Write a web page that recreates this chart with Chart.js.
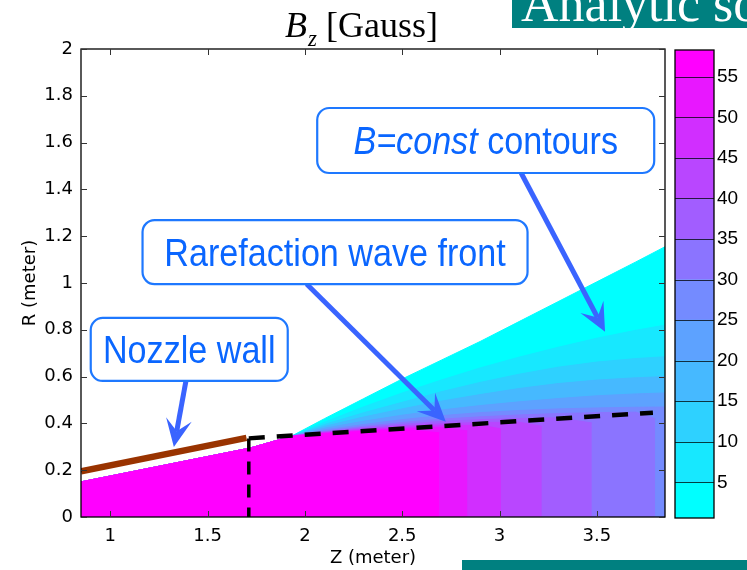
<!DOCTYPE html>
<html><head><meta charset="utf-8">
<script src="https://cdn.jsdelivr.net/npm/chart.js@4/dist/chart.umd.min.js"></script>
<style>
html,body{margin:0;padding:0;background:#fff;}
#wrap{position:relative;width:747px;height:570px;overflow:hidden;background:#fff;}
#main{position:absolute;left:0;top:0;}
#cbar{position:absolute;left:660px;top:0;}
#banner{position:absolute;left:512px;top:0;width:235px;height:28px;background:#008080;overflow:hidden;}
#banner span{position:absolute;left:9px;top:-24px;font-family:"Liberation Serif","Times New Roman",serif;font-size:52px;color:#fff;white-space:nowrap;line-height:56px;}
#footer{position:absolute;left:462px;top:560px;width:285px;height:10px;background:#008080;}
</style></head>
<body>
<div id="wrap">
<canvas id="main" width="747" height="570"></canvas>
<canvas id="cbar" width="87" height="570"></canvas>
<div id="banner"><span>Analytic solution</span></div>
<div id="footer"></div>
</div>
<script>
// ---------- axes ----------
const zRange = [0.85, 3.85];
const rRange = [0, 2];
const zTicks = [1, 1.5, 2, 2.5, 3, 3.5];
const zTickLabels = ['1', '1.5', '2', '2.5', '3', '3.5'];
const rTicks = [0, 0.2, 0.4, 0.6, 0.8, 1, 1.2, 1.4, 1.6, 1.8, 2];
const rTickLabels = ['0', '0.2', '0.4', '0.6', '0.8', '1', '1.2', '1.4', '1.6', '1.8', '2'];

// ---------- colour bar ----------
const bLevels = [0, 5, 10, 15, 20, 25, 30, 35, 40, 45, 50, 55];
const cbEdges = [0.6, 5, 10, 15, 20, 25, 30, 35, 40, 45, 50, 55, 58.3];
const cbTicks = [5, 10, 15, 20, 25, 30, 35, 40, 45, 50, 55];
const cbTickLabels = ['5', '10', '15', '20', '25', '30', '35', '40', '45', '50', '55'];

// ---------- field: nozzle interior top edge ----------
const nozzleZ = [0.85, 1.72];
const nozzleR = [0.15, 0.295];

// ---------- field: B >= level regions, upper boundary (R) sampled at fanZ ----------
const fanZ = [1.93, 2.1, 2.3, 2.5, 2.7, 2.9, 3.1, 3.3, 3.5, 3.7, 3.85];
const bound0  = [0.345, 0.42, 0.505, 0.59, 0.67, 0.75, 0.835, 0.92, 1.005, 1.09, 1.155];
const bound5  = [0.345, 0.405, 0.47, 0.53, 0.585, 0.637, 0.683, 0.725, 0.764, 0.798, 0.82];
const bound10 = [0.345, 0.395, 0.445, 0.49, 0.535, 0.575, 0.61, 0.64, 0.662, 0.677, 0.685];
const bound15 = [0.345, 0.387, 0.427, 0.462, 0.495, 0.523, 0.549, 0.57, 0.585, 0.595, 0.60];
const bound20 = [0.345, 0.379, 0.409, 0.435, 0.457, 0.476, 0.492, 0.506, 0.518, 0.526, 0.53];
const bound25 = [0.345, 0.372, 0.395, 0.416, 0.433, 0.446, 0.455, 0.462, 0.466, 0.469, 0.47];
const bound30 = [0.345, 0.367, 0.387, 0.404, 0.418, 0.428, 0.436, 0.442, 0.446, 0.448];
const bound35 = [0.345, 0.364, 0.382, 0.396, 0.408, 0.416, 0.421, 0.424];
const bound40 = [0.345, 0.362, 0.377, 0.389, 0.398, 0.404, 0.405];
const bound45 = [0.345, 0.36, 0.373, 0.383, 0.39, 0.392];
const bound50 = [0.345, 0.358, 0.37, 0.378, 0.382];
const bound55 = [0.345, 0.356, 0.366, 0.374];
// where the uniform (core) region drops below each level
const cutZ = [null, null, null, null, null, null, 3.80, 3.474, 3.217, 3.007, 2.835, 2.69];
const cutR = [null, null, null, null, null, null, 0.42, 0.402, 0.388, 0.377, 0.368, 0.360];

// ---------- overlay lines ----------
const wallZ = [0.85, 1.70];
const wallR = [0.195, 0.338];
const frontVZ = [1.712, 1.712];
const frontVR = [0.336, 0];
const frontHZ = [1.712, 3.788];
const frontHR = [0.336, 0.446];

// ---------- callouts (anchor positions in data units) ----------
const callouts = [
  {parts: [['Nozzle wall', 'normal']], z: 1.406, r: 0.716, w: 197, h: 63, tailZ: 1.389, tailR: 0.581, tipZ: 1.327, tipR: 0.299},
  {parts: [['Rarefaction wave front', 'normal']], z: 2.155, r: 1.132, w: 385, h: 64, tailZ: 2.009, tailR: 0.996, tipZ: 2.724, tipR: 0.407},
  {parts: [['B=const', 'italic'], [' contours', 'normal']], z: 2.929, r: 1.609, w: 337, h: 65, tailZ: 3.111, tailR: 1.470, tipZ: 3.542, tipR: 0.792}
];

const bounds = [bound0, bound5, bound10, bound15, bound20, bound25, bound30, bound35, bound40, bound45, bound50, bound55];

function coolColor(k) {
  const r = Math.round(k * 255 / 11);
  return 'rgb(' + r + ',' + (255 - r) + ',255)';
}
function pts(zs, rs) { return zs.map((z, i) => ({x: z, y: rs[i]})); }
function bandPoints(k) {
  const p = pts(nozzleZ, nozzleR);
  bounds[k].forEach((r, i) => p.push({x: fanZ[i], y: r}));
  if (cutZ[k] !== null) p.push({x: cutZ[k], y: cutR[k]});
  return p;
}

const datasets = [];
bLevels.forEach((lv, k) => {
  const c = coolColor(k);
  datasets.push({data: bandPoints(k), showLine: true, fill: 'origin', backgroundColor: c, borderColor: c,
    borderWidth: 1, pointRadius: 0, order: 100 - k, tension: 0});
});
datasets.push({data: pts(frontVZ, frontVR), showLine: true, fill: false, borderColor: '#000', borderWidth: 3.5,
  borderDash: [13, 10], borderCapStyle: 'butt', pointRadius: 0, order: 3});
datasets.push({data: pts(frontHZ, frontHR), showLine: true, fill: false, borderColor: '#000', borderWidth: 4.5,
  borderDash: [16, 12], borderCapStyle: 'butt', pointRadius: 0, order: 2});
datasets.push({data: pts(wallZ, wallR), showLine: true, fill: false, borderColor: '#993300', borderWidth: 6.5,
  borderCapStyle: 'butt', pointRadius: 0, order: 1});

const tickFont = {family: '"DejaVu Sans", sans-serif', size: 18};

function drawArrow(ctx, x0, y0, x1, y1) {
  const dx = x1 - x0, dy = y1 - y0, L = Math.hypot(dx, dy);
  const ux = dx / L, uy = dy / L, px = -uy, py = ux;
  ctx.strokeStyle = '#3a64ff'; ctx.fillStyle = '#3a64ff';
  ctx.lineWidth = 5; ctx.lineCap = 'butt';
  ctx.beginPath(); ctx.moveTo(x0, y0); ctx.lineTo(x1 - ux * 16, y1 - uy * 16); ctx.stroke();
  ctx.beginPath();
  ctx.moveTo(x1, y1);
  ctx.lineTo(x1 - ux * 28 + px * 13, y1 - uy * 28 + py * 13);
  ctx.lineTo(x1 - ux * 16, y1 - uy * 16);
  ctx.lineTo(x1 - ux * 28 - px * 13, y1 - uy * 28 - py * 13);
  ctx.closePath(); ctx.fill();
}
function roundRect(ctx, x, y, w, h, rad) {
  ctx.beginPath();
  ctx.moveTo(x + rad, y);
  ctx.arcTo(x + w, y, x + w, y + h, rad);
  ctx.arcTo(x + w, y + h, x, y + h, rad);
  ctx.arcTo(x, y + h, x, y, rad);
  ctx.arcTo(x, y, x + w, y, rad);
  ctx.closePath();
}

const mainPlugin = {
  id: 'mainPlugin',
  afterDatasetsDraw(chart) {
    const {ctx, chartArea: a, scales: {x, y}} = chart;
    ctx.save();
    ctx.strokeStyle = '#000'; ctx.lineWidth = 1.3;
    ctx.strokeRect(a.left, a.top, a.right - a.left, a.bottom - a.top);
    ctx.lineWidth = 1; ctx.strokeStyle = '#333';
    const tl = 6;
    ctx.beginPath();
    x.ticks.forEach(t => {
      const px = Math.round(x.getPixelForValue(t.value)) + 0.5;
      ctx.moveTo(px, a.bottom); ctx.lineTo(px, a.bottom - tl);
      ctx.moveTo(px, a.top); ctx.lineTo(px, a.top + tl);
    });
    y.ticks.forEach(t => {
      const py = Math.round(y.getPixelForValue(t.value)) + 0.5;
      ctx.moveTo(a.left, py); ctx.lineTo(a.left + tl, py);
      ctx.moveTo(a.right, py); ctx.lineTo(a.right - tl, py);
    });
    ctx.stroke();
    ctx.restore();
  },
  afterDraw(chart) {
    const {ctx, scales: {x, y}} = chart;
    ctx.save();
    // title
    ctx.fillStyle = '#000'; ctx.textBaseline = 'alphabetic'; ctx.textAlign = 'left';
    let tx = 285;
    ctx.font = 'italic 36px "Liberation Serif", serif';
    ctx.fillText('B', tx, 37); tx += ctx.measureText('B').width + 1;
    ctx.font = 'italic 23px "Liberation Serif", serif';
    ctx.fillText('z', tx, 46); tx += ctx.measureText('z').width;
    ctx.font = '36px "Liberation Serif", serif';
    ctx.fillText(' [Gauss]', tx, 37);
    // callouts
    const hScale = 0.875;
    callouts.forEach(c => {
      drawArrow(ctx, x.getPixelForValue(c.tailZ), y.getPixelForValue(c.tailR),
        x.getPixelForValue(c.tipZ), y.getPixelForValue(c.tipR));
      const cx = x.getPixelForValue(c.z), cy = y.getPixelForValue(c.r);
      roundRect(ctx, cx - c.w / 2, cy - c.h / 2, c.w, c.h, 12);
      ctx.fillStyle = '#fff'; ctx.fill();
      ctx.strokeStyle = '#1e78ff'; ctx.lineWidth = 2.2; ctx.stroke();
      let total = 0;
      c.parts.forEach(p => { ctx.font = p[1] + ' 39px "Liberation Sans", Arial, sans-serif'; total += ctx.measureText(p[0]).width; });
      ctx.save();
      ctx.translate(cx - total * hScale / 2, cy + 14);
      ctx.scale(hScale, 1);
      ctx.fillStyle = '#0a66ff';
      let off = 0;
      c.parts.forEach(p => {
        ctx.font = p[1] + ' 39px "Liberation Sans", Arial, sans-serif';
        ctx.fillText(p[0], off, 0); off += ctx.measureText(p[0]).width;
      });
      ctx.restore();
    });
    ctx.restore();
  }
};

new Chart(document.getElementById('main'), {
  type: 'scatter',
  data: {datasets},
  options: {
    responsive: false, animation: false, devicePixelRatio: 1, events: [],
    layout: {padding: {left: 0, top: 49, right: 82, bottom: 0}},
    plugins: {legend: {display: false}, tooltip: {enabled: false}, title: {display: false}},
    scales: {
      x: {type: 'linear', position: 'bottom', min: zRange[0], max: zRange[1],
        afterBuildTicks: s => { s.ticks = zTicks.map(v => ({value: v})); },
        afterFit: s => { s.height = 53; },
        grid: {display: false, drawTicks: false}, border: {display: false},
        ticks: {font: tickFont, color: '#000', padding: 9, maxRotation: 0, autoSkip: false,
          callback: (v, i) => zTickLabels[i]},
        title: {display: true, text: 'Z (meter)', font: tickFont, color: '#000', padding: {top: 0, bottom: 1}}
      },
      y: {type: 'linear', position: 'left', min: rRange[0], max: rRange[1],
        afterBuildTicks: s => { s.ticks = rTicks.map(v => ({value: v})); },
        afterFit: s => { s.width = 81; },
        grid: {display: false, drawTicks: false}, border: {display: false},
        ticks: {font: tickFont, color: '#000', padding: 8, autoSkip: false,
          callback: (v, i) => rTickLabels[i]},
        title: {display: true, text: 'R (meter)', font: tickFont, color: '#000', padding: {top: 20, bottom: 0}}
      }
    }
  },
  plugins: [mainPlugin]
});

// ---------- colour bar ----------
const cbPlugin = {
  id: 'cbPlugin',
  afterDatasetsDraw(chart) {
    const {ctx, chartArea: a, scales: {y}} = chart;
    ctx.save();
    ctx.strokeStyle = 'rgba(0,0,0,0.75)'; ctx.lineWidth = 1;
    ctx.beginPath();
    y.ticks.forEach(t => {
      const py = Math.round(y.getPixelForValue(t.value)) + 0.5;
      ctx.moveTo(a.left, py); ctx.lineTo(a.right, py);
    });
    ctx.stroke();
    ctx.strokeStyle = '#000'; ctx.lineWidth = 1.3;
    ctx.strokeRect(a.left, a.top, a.right - a.left, a.bottom - a.top);
    ctx.restore();
  }
};
new Chart(document.getElementById('cbar'), {
  type: 'bar',
  data: {labels: [''], datasets: bLevels.map((lv, k) => ({
    data: [[cbEdges[k], cbEdges[k + 1]]], backgroundColor: coolColor(k), borderWidth: 0,
    barPercentage: 1, categoryPercentage: 1, grouped: false}))},
  options: {
    responsive: false, animation: false, devicePixelRatio: 1, events: [],
    layout: {padding: {left: 15, top: 50, right: 0, bottom: 52}},
    plugins: {legend: {display: false}, tooltip: {enabled: false}},
    scales: {
      x: {display: false},
      y: {position: 'right', min: cbEdges[0], max: cbEdges[cbEdges.length - 1],
        afterBuildTicks: s => { s.ticks = cbTicks.map(v => ({value: v})); },
        afterFit: s => { s.width = 33; },
        grid: {display: false, drawTicks: false}, border: {display: false},
        ticks: {font: {family: '"Liberation Sans", Arial, sans-serif', size: 19}, color: '#000', padding: 3,
          autoSkip: false, callback: (v, i) => cbTickLabels[i]}
      }
    }
  },
  plugins: [cbPlugin]
});
</script>
</body></html>
